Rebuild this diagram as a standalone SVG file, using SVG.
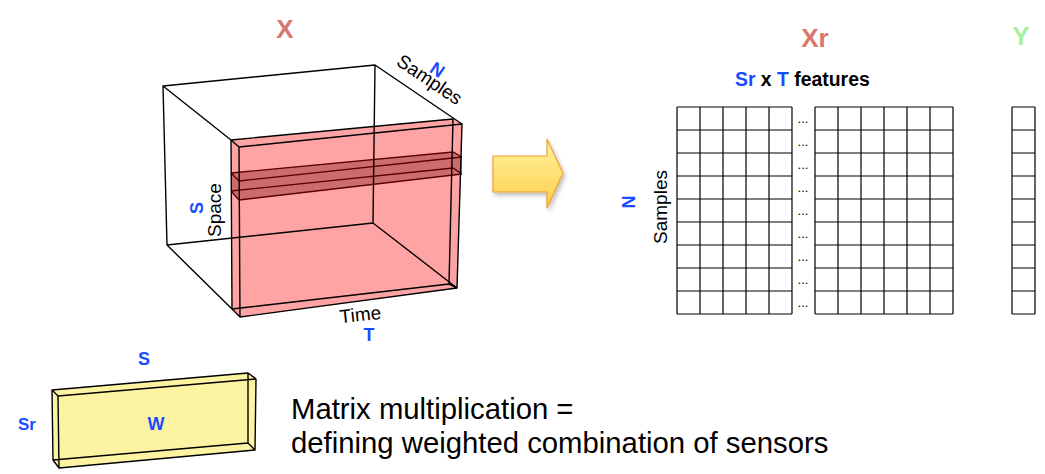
<svg xmlns="http://www.w3.org/2000/svg" width="1045" height="474" viewBox="0 0 1045 474">
<defs>
<linearGradient id="arrowGrad" x1="0" y1="0" x2="0" y2="1">
<stop offset="0" stop-color="#fff3a0"/>
<stop offset="1" stop-color="#ffcf4a"/>
</linearGradient>
<filter id="shadow" x="-20%" y="-20%" width="150%" height="150%">
<feGaussianBlur in="SourceAlpha" stdDeviation="2"/>
<feOffset dx="2" dy="3"/>
<feComponentTransfer><feFuncA type="linear" slope="0.25"/></feComponentTransfer>
<feMerge><feMergeNode/><feMergeNode in="SourceGraphic"/></feMerge>
</filter>
</defs>
<style>
.t{font-family:"Liberation Sans",Arial,sans-serif;}
.title{font-family:"Liberation Sans",Arial,sans-serif;font-weight:bold;font-size:26px;text-anchor:middle;}
.blue{fill:#1a4cff;font-weight:bold;}
.edge{fill:none;stroke:#000;stroke-width:1.4;stroke-linejoin:round;}
.band{fill:none;stroke:#5a0000;stroke-width:1.3;}
.grid{fill:none;stroke:#000;stroke-width:1.2;}
.dots{font-family:"Liberation Sans",Arial,sans-serif;font-size:13px;text-anchor:middle;fill:#000;}
</style>

<g id="tensor-X">
<text class="title" x="285" y="38" fill="#d9766e">X</text>
<polygon points="231,140 453,119 462,124 457,288 240,317 232,309" fill="#ffa4a4"/>
<polygon points="231,173 453,152 462,157 462,174 239,200 231,191" fill="#cc6c6c"/>
<path class="band" d="M231,173 L453,152 L462,157 M239,181 L462,157 M231,191 L453,168 L462,174 M239,200 L462,174 M231,173 L239,181 M231,191 L239,200"/>
<path class="edge" d="M163,86 L375,65 L373,223 L167,245 Z M163,86 L231,140 M375,65 L462,124 M373,223 L457,288 M167,245 L232,309"/>
<path class="edge" d="M231,140 L453,119 L449,284 L232,309 Z M239,147 L462,124 L457,288 L240,317 Z M231,140 L239,147 M449,284 L457,288 M232,309 L240,317"/>
<text class="t" font-size="19" text-anchor="middle" transform="translate(426,85) rotate(34)">Samples</text>
<text class="t blue" font-size="18" text-anchor="middle" transform="translate(434,75) rotate(34)">N</text>
<text class="t" font-size="19" text-anchor="middle" transform="translate(221,210) rotate(-90)">Space</text>
<text class="t blue" font-size="18" text-anchor="middle" transform="translate(203,208) rotate(-90)">S</text>
<text class="t" font-size="19" text-anchor="middle" transform="translate(361,321) rotate(-6)">Time</text>
<text class="t blue" font-size="18" text-anchor="middle" x="369" y="341">T</text>
</g>

<g id="arrow">
<polygon points="493,156 547,156 547,139 563,173 547,208 547,192 493,192" fill="url(#arrowGrad)" stroke="#f0a030" stroke-width="1.2" filter="url(#shadow)"/>
</g>

<g id="matrix-Xr">
<text class="title" x="815" y="47" fill="#d9766e">Xr</text>
<text class="t" font-size="19.4" font-weight="bold" x="735" y="86"><tspan fill="#1a4cff">Sr</tspan> x <tspan fill="#1a4cff">T</tspan> features</text>
<text class="t blue" font-size="18" text-anchor="middle" transform="translate(635,202) rotate(-90)">N</text>
<text class="t" font-size="19" text-anchor="middle" transform="translate(667,207) rotate(-90)">Samples</text>
<path class="grid" d="M677,107 H792 M677,130 H792 M677,153 H792 M677,176 H792 M677,199 H792 M677,222 H792 M677,245 H792 M677,268 H792 M677,291 H792 M677,314 H792 M677,107 V314 M700,107 V314 M723,107 V314 M746,107 V314 M769,107 V314 M792,107 V314"/>
<path class="grid" d="M815,107 H953 M815,130 H953 M815,153 H953 M815,176 H953 M815,199 H953 M815,222 H953 M815,245 H953 M815,268 H953 M815,291 H953 M815,314 H953 M815,107 V314 M838,107 V314 M861,107 V314 M884,107 V314 M907,107 V314 M930,107 V314 M953,107 V314"/>
<text class="dots" x="803" y="123">...</text>
<text class="dots" x="803" y="146">...</text>
<text class="dots" x="803" y="169">...</text>
<text class="dots" x="803" y="192">...</text>
<text class="dots" x="803" y="215">...</text>
<text class="dots" x="803" y="238">...</text>
<text class="dots" x="803" y="261">...</text>
<text class="dots" x="803" y="284">...</text>
<text class="dots" x="803" y="307">...</text>
</g>

<g id="vector-Y">
<text class="title" x="1021" y="45" fill="#a6f0a0">Y</text>
<path class="grid" d="M1012,107 H1035 M1012,130 H1035 M1012,153 H1035 M1012,176 H1035 M1012,199 H1035 M1012,222 H1035 M1012,245 H1035 M1012,268 H1035 M1012,291 H1035 M1012,314 H1035 M1012,107 V314 M1035,107 V314"/>
</g>

<g id="weights-W">
<polygon points="52,390 248,373 256,379 255,450 59,468 53,460" fill="#fcf4a2"/>
<path class="edge" stroke-width="1.1" d="M52,390 L248,373 L248,443 L53,460 Z M58,396 L256,379 L255,450 L59,468 Z M52,390 L58,396 M248,373 L256,379 M248,443 L255,450 M53,460 L59,468"/>
<text class="t blue" font-size="18" text-anchor="middle" x="144" y="365">S</text>
<text class="t blue" font-size="17" text-anchor="middle" x="27" y="430">Sr</text>
<text class="t blue" font-size="18" text-anchor="middle" x="156" y="430">W</text>
</g>

<g id="caption">
<text class="t" font-size="29.3" x="291" y="419">Matrix multiplication =</text>
<text class="t" font-size="29.3" x="291" y="453">defining weighted combination of sensors</text>
</g>

<g id="connectors"></g>
</svg>
